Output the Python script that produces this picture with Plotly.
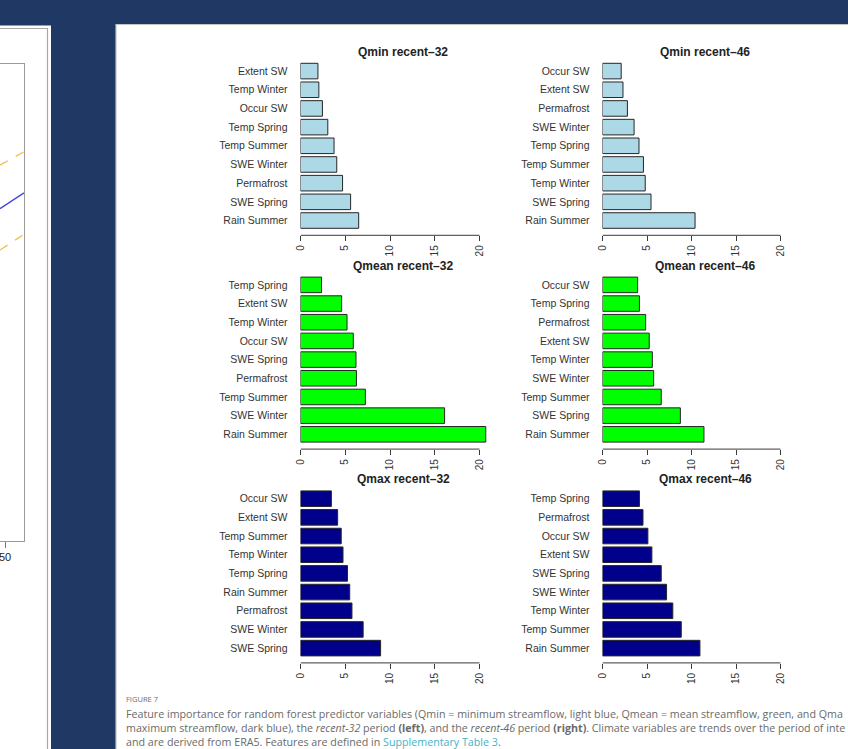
import plotly.graph_objects as go

W, H = 848, 749

# ---- feature importance values (listed bottom bar first) ----
qmin32_names = ["Rain Summer", "SWE Spring", "Permafrost", "SWE Winter", "Temp Summer",
                "Temp Spring", "Occur SW", "Temp Winter", "Extent SW"]
qmin32_vals = [6.5, 5.6, 4.7, 4.05, 3.75, 3.05, 2.45, 2.05, 1.95]

qmin46_names = ["Rain Summer", "SWE Spring", "Temp Winter", "Temp Summer", "Temp Spring",
                "SWE Winter", "Permafrost", "Extent SW", "Occur SW"]
qmin46_vals = [10.4, 5.45, 4.8, 4.6, 4.1, 3.55, 2.8, 2.3, 2.1]

qmean32_names = ["Rain Summer", "SWE Winter", "Temp Summer", "Permafrost", "SWE Spring",
                 "Occur SW", "Temp Winter", "Extent SW", "Temp Spring"]
qmean32_vals = [20.7, 16.1, 7.25, 6.25, 6.2, 5.9, 5.2, 4.6, 2.35]

qmean46_names = ["Rain Summer", "SWE Spring", "Temp Summer", "SWE Winter", "Temp Winter",
                 "Extent SW", "Permafrost", "Temp Spring", "Occur SW"]
qmean46_vals = [11.4, 8.75, 6.6, 5.75, 5.6, 5.25, 4.85, 4.15, 3.95]

qmax32_names = ["SWE Spring", "SWE Winter", "Permafrost", "Rain Summer", "Temp Spring",
                "Temp Winter", "Temp Summer", "Extent SW", "Occur SW"]
qmax32_vals = [8.95, 7.0, 5.75, 5.5, 5.25, 4.75, 4.55, 4.15, 3.45]

qmax46_names = ["Rain Summer", "Temp Summer", "Temp Winter", "SWE Winter", "SWE Spring",
                "Extent SW", "Occur SW", "Permafrost", "Temp Spring"]
qmax46_vals = [10.95, 8.85, 7.9, 7.2, 6.6, 5.55, 5.1, 4.55, 4.15]

importance_ticks = [0, 5, 10, 15, 20]

# ---- neighbouring trend chart (only its right edge is in view) ----
trend_x = [49.6, 51.5]
trend_mid = [69.7, 73.0]
trend_hi = [78.8, 81.6]
trend_lo = [61.0, 64.3]
trend_tick = [50]

NAVY = "#203864"
TXT = "#333333"
FONT = "Liberation Sans, Arial, sans-serif"


def px(x):
    return x / W


def py(y):
    return 1 - y / H


fig = go.Figure()
layout = {}
shapes = []
annotations = []

# background panels
shapes.append(dict(type="rect", xref="paper", yref="paper", x0=px(-5), x1=px(51),
                   y0=py(760), y1=py(25.5), fillcolor="white", line=dict(width=0), layer="below"))
shapes.append(dict(type="rect", xref="paper", yref="paper", x0=px(-5), x1=px(47.5),
                   y0=py(760), y1=py(28.5), fillcolor="rgba(0,0,0,0)",
                   line=dict(color="#a8a8a8", width=1.2), layer="below"))
shapes.append(dict(type="rect", xref="paper", yref="paper", x0=px(116), x1=px(870),
                   y0=py(770), y1=py(24.5), fillcolor="white",
                   line=dict(color="#c4c4c4", width=1.2), layer="below"))

panels = [
    ("Qmin recent–32", qmin32_names, qmin32_vals, "#add8e6", 0, 0),
    ("Qmin recent–46", qmin46_names, qmin46_vals, "#add8e6", 0, 1),
    ("Qmean recent–32", qmean32_names, qmean32_vals, "#00ff00", 1, 0),
    ("Qmean recent–46", qmean46_names, qmean46_vals, "#00ff00", 1, 1),
    ("Qmax recent–32", qmax32_names, qmax32_vals, "#00008b", 2, 0),
    ("Qmax recent–46", qmax46_names, qmax46_vals, "#00008b", 2, 1),
]

col_zero = [300.5, 602.5]
col_scale = [8.95, 8.9]
title_cx = [403, 705]
row_top = 63.3
row_step = 213.8
block = 165.0
slot = block / (9 - 1 / 6)

for i, (title, names, vals, color, r, c) in enumerate(panels, start=1):
    T = row_top + r * row_step
    B = T + block
    y_top = T - slot / 12
    y_bot = B + 7
    ext = (y_bot - (B + slot / 12)) / slot
    x0 = col_zero[c]
    x1 = x0 + 21 * col_scale[c]
    sfx = "" if i == 1 else str(i)
    fig.add_trace(go.Bar(
        x=vals, y=names, orientation="h", xaxis="x" + sfx, yaxis="y" + sfx,
        marker=dict(color=color, line=dict(color="#262626", width=1)),
        showlegend=False, hoverinfo="x+y"))
    layout["xaxis" + sfx] = dict(
        domain=[px(x0), px(x1)], range=[0, 21], anchor="y" + sfx, automargin=False,
        tickmode="array", tickvals=importance_ticks, ticktext=[str(t) for t in importance_ticks],
        ticks="outside", ticklen=5, tickwidth=1, tickcolor="#3a3a3a",
        tickangle=-90, tickfont=dict(size=10, color=TXT, family=FONT),
        showline=False, showgrid=False, zeroline=False, fixedrange=True)
    layout["yaxis" + sfx] = dict(
        domain=[py(y_bot), py(y_top)], range=[-0.5 - ext, 8.5], anchor="x" + sfx,
        automargin=False, type="category", categoryorder="array", categoryarray=names,
        ticks="", ticklabelstandoff=12, tickfont=dict(size=10.5, color=TXT, family=FONT),
        showline=False, showgrid=False, zeroline=False, fixedrange=True)
    # axis line spans the labelled ticks only
    shapes.append(dict(type="line", xref="x" + sfx, yref="y" + sfx + " domain",
                       x0=0, x1=20, y0=0, y1=0, line=dict(color="#3a3a3a", width=1)))
    annotations.append(dict(text="<b>" + title + "</b>", xref="paper", yref="paper",
                            x=px(title_cx[c]), y=py(51.7 + r * row_step), xanchor="center",
                            yanchor="middle", showarrow=False,
                            font=dict(size=12, color="#222", family=FONT)))

# partial trend chart on the left
for ys, col, dash, wd in [(trend_hi, "#f2c14e", "dash", 1.4),
                          (trend_mid, "#4a4ae0", "solid", 1.5),
                          (trend_lo, "#f2c14e", "dash", 1.4)]:
    fig.add_trace(go.Scatter(x=trend_x, y=ys, mode="lines", xaxis="x7", yaxis="y7",
                             line=dict(color=col, dash=dash, width=wd),
                             showlegend=False, hoverinfo="skip"))
layout["xaxis7"] = dict(domain=[0, px(24)], range=[trend_x[0], trend_x[1]], anchor="y7",
                        automargin=False, ticklabeloverflow="allow",
                        tickmode="array", tickvals=trend_tick, ticktext=["50"],
                        ticks="outside", ticklen=6, tickcolor="#777",
                        tickfont=dict(size=11, color="#222", family=FONT),
                        showline=True, mirror=True, linecolor="#9a9a9a", linewidth=1,
                        showgrid=False, zeroline=False, fixedrange=True)
layout["yaxis7"] = dict(domain=[py(541), py(64)], range=[0, 100], anchor="x7", side="right",
                        automargin=False, showticklabels=False, ticks="", showline=True,
                        linecolor="#9a9a9a", linewidth=1, showgrid=False, zeroline=False,
                        fixedrange=True)

# figure caption, as far as the panel shows it
CAP = "Open Sans, Liberation Sans, sans-serif"
cap_col = "#6a6a6a"
caption_lines = [
    ("FIGURE 7", 699, 7.5),
    ("Feature importance for random forest predictor variables (Qmin = minimum streamflow, light blue, "
     "Qmean = mean streamflow, green, and Qma", 714, 10.7),
    ("maximum streamflow, dark blue), the <i>recent-32</i> period <b>(left)</b>, and the "
     "<i>recent-46</i> period <b>(right)</b>. Climate variables are trends over the period of inte", 728, 10.7),
    ("and are derived from ERA5. Features are defined in "
     "<span style='color:#45b3c6'>Supplementary Table 3</span>.", 742, 10.7),
]
for txt, yy, fs in caption_lines:
    annotations.append(dict(text=txt, xref="paper", yref="paper", x=px(124), y=py(yy),
                            xanchor="left", yanchor="middle", showarrow=False, align="left",
                            font=dict(size=fs, color=cap_col, family=CAP)))

fig.update_layout(
    width=W, height=H, margin=dict(l=0, r=0, t=0, b=0, autoexpand=False),
    paper_bgcolor=NAVY, plot_bgcolor="rgba(0,0,0,0)",
    font=dict(family=FONT, color=TXT), bargap=1 / 6,
    shapes=shapes, annotations=annotations, **layout)

fig.write_html("out.html")
